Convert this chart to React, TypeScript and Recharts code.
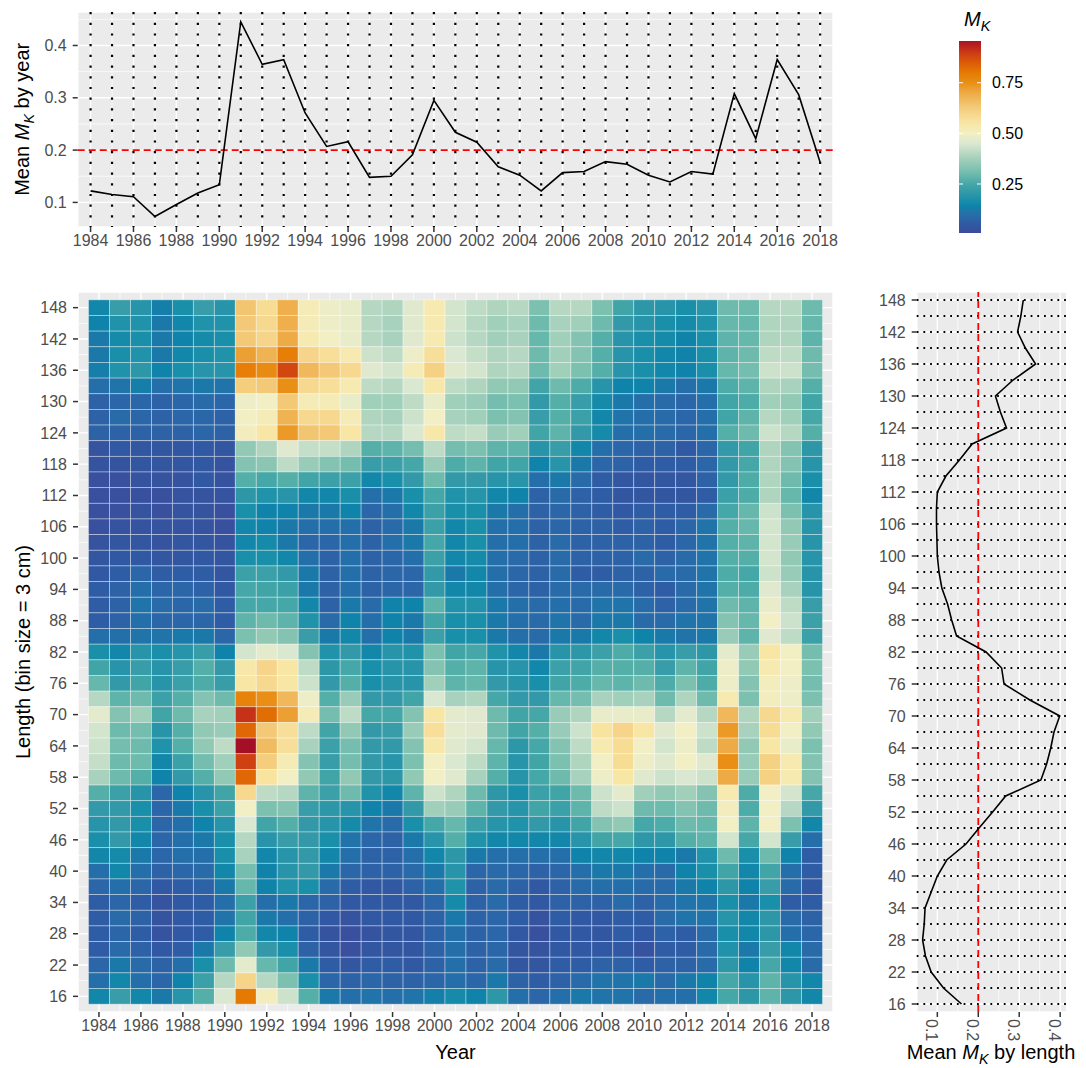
import React from "react";
import {
  CartesianGrid,
  Line,
  LineChart,
  ReferenceLine,
  Scatter,
  ScatterChart,
  XAxis,
  YAxis,
} from "recharts";

// survey years, left to right
const years = [
  1984, 1985, 1986, 1987, 1988, 1989, 1990, 1991, 1992, 1993, 1994, 1995,
  1996, 1997, 1998, 1999, 2000, 2001, 2002, 2003, 2004, 2005, 2006, 2007,
  2008, 2009, 2010, 2011, 2012, 2013, 2014, 2015, 2016, 2017, 2018,
];

// length bins (cm), top row first
const lengths = [
  148, 145, 142, 139, 136, 133, 130, 127, 124, 121, 118, 115, 112, 109, 106,
  103, 100, 97, 94, 91, 88, 85, 82, 79, 76, 73, 70, 67, 64, 61, 58, 55, 52, 49,
  46, 43, 40, 37, 34, 31, 28, 25, 22, 19, 16,
];

const yearTicks = [
  1984, 1986, 1988, 1990, 1992, 1994, 1996, 1998, 2000, 2002, 2004, 2006,
  2008, 2010, 2012, 2014, 2016, 2018,
];
const lengthTicks = [
  16, 22, 28, 34, 40, 46, 52, 58, 64, 70, 76, 82, 88, 94, 100, 106, 112, 118,
  124, 130, 136, 142, 148,
];
const mkTicks = [0.1, 0.2, 0.3, 0.4];
const legendTicks = [0.25, 0.5, 0.75];
const mkReference = 0.2;

// mean M_K per year
const yearMeans = [
  0.122, 0.115, 0.111, 0.073, 0.096, 0.118, 0.134, 0.445, 0.364, 0.373, 0.271,
  0.207, 0.216, 0.148, 0.15, 0.191, 0.295, 0.234, 0.215, 0.168, 0.152, 0.122,
  0.157, 0.159, 0.178, 0.173, 0.152, 0.139, 0.159, 0.154, 0.308, 0.222, 0.373,
  0.306, 0.177,
];

// mean M_K per length bin, same order as `lengths`
const lengthMeans = [
  0.31, 0.304, 0.296, 0.315, 0.34, 0.285, 0.242, 0.254, 0.269, 0.185, 0.154,
  0.121, 0.1, 0.098, 0.098, 0.099, 0.1, 0.104, 0.111, 0.125, 0.135, 0.147,
  0.219, 0.257, 0.263, 0.326, 0.399, 0.385, 0.377, 0.367, 0.353, 0.267, 0.235,
  0.202, 0.17, 0.123, 0.1, 0.085, 0.07, 0.068, 0.064, 0.071, 0.085, 0.115,
  0.159,
];

// M_K by length (rows, same order as `lengths`) and year (columns)
const mkGrid = [
  /* 148 */ [0.15, 0.22, 0.19, 0.13, 0.17, 0.22, 0.19, 0.64, 0.58, 0.69, 0.52, 0.49, 0.48, 0.4, 0.39, 0.46, 0.53, 0.44, 0.41, 0.39, 0.4, 0.32, 0.4, 0.4, 0.32, 0.24, 0.2, 0.19, 0.17, 0.19, 0.3, 0.3, 0.4, 0.4, 0.3],
  /* 145 */ [0.14, 0.18, 0.18, 0.12, 0.15, 0.18, 0.18, 0.63, 0.59, 0.69, 0.52, 0.49, 0.48, 0.4, 0.38, 0.46, 0.53, 0.44, 0.4, 0.37, 0.38, 0.3, 0.38, 0.37, 0.3, 0.21, 0.19, 0.17, 0.16, 0.18, 0.29, 0.29, 0.39, 0.39, 0.29],
  /* 142 */ [0.12, 0.16, 0.17, 0.12, 0.14, 0.16, 0.17, 0.63, 0.6, 0.7, 0.53, 0.5, 0.48, 0.4, 0.38, 0.46, 0.53, 0.43, 0.4, 0.37, 0.38, 0.29, 0.37, 0.33, 0.27, 0.19, 0.17, 0.16, 0.14, 0.17, 0.28, 0.29, 0.39, 0.39, 0.28],
  /* 139 */ [0.12, 0.17, 0.18, 0.12, 0.15, 0.17, 0.18, 0.72, 0.68, 0.79, 0.6, 0.57, 0.53, 0.43, 0.41, 0.49, 0.57, 0.45, 0.42, 0.39, 0.4, 0.3, 0.37, 0.33, 0.27, 0.19, 0.17, 0.15, 0.14, 0.17, 0.28, 0.3, 0.41, 0.41, 0.3],
  /* 136 */ [0.13, 0.18, 0.2, 0.14, 0.17, 0.19, 0.19, 0.79, 0.76, 0.88, 0.67, 0.63, 0.59, 0.46, 0.44, 0.52, 0.61, 0.46, 0.44, 0.39, 0.4, 0.3, 0.37, 0.32, 0.27, 0.19, 0.17, 0.15, 0.14, 0.17, 0.29, 0.31, 0.43, 0.43, 0.31],
  /* 133 */ [0.1, 0.11, 0.13, 0.1, 0.11, 0.12, 0.11, 0.62, 0.63, 0.75, 0.59, 0.57, 0.53, 0.41, 0.4, 0.45, 0.54, 0.41, 0.39, 0.35, 0.35, 0.24, 0.3, 0.26, 0.19, 0.14, 0.14, 0.12, 0.1, 0.12, 0.26, 0.28, 0.39, 0.38, 0.27],
  /* 130 */ [0.07, 0.08, 0.08, 0.07, 0.08, 0.09, 0.08, 0.49, 0.5, 0.63, 0.52, 0.52, 0.48, 0.37, 0.37, 0.41, 0.48, 0.37, 0.36, 0.31, 0.32, 0.21, 0.27, 0.22, 0.16, 0.12, 0.1, 0.09, 0.08, 0.1, 0.24, 0.26, 0.37, 0.35, 0.24],
  /* 127 */ [0.07, 0.09, 0.08, 0.07, 0.08, 0.08, 0.07, 0.5, 0.52, 0.68, 0.59, 0.59, 0.52, 0.39, 0.38, 0.43, 0.5, 0.38, 0.37, 0.32, 0.33, 0.22, 0.27, 0.23, 0.15, 0.11, 0.1, 0.09, 0.08, 0.1, 0.24, 0.28, 0.4, 0.37, 0.25],
  /* 124 */ [0.07, 0.07, 0.07, 0.07, 0.07, 0.08, 0.07, 0.51, 0.55, 0.73, 0.64, 0.63, 0.55, 0.4, 0.4, 0.45, 0.54, 0.41, 0.42, 0.36, 0.37, 0.24, 0.28, 0.21, 0.16, 0.1, 0.1, 0.09, 0.08, 0.1, 0.27, 0.3, 0.43, 0.4, 0.27],
  /* 121 */ [0.03, 0.05, 0.04, 0.04, 0.04, 0.05, 0.04, 0.35, 0.39, 0.46, 0.42, 0.42, 0.39, 0.27, 0.28, 0.31, 0.41, 0.31, 0.32, 0.28, 0.28, 0.19, 0.22, 0.15, 0.1, 0.08, 0.07, 0.07, 0.05, 0.08, 0.21, 0.24, 0.39, 0.33, 0.2],
  /* 118 */ [0.03, 0.03, 0.04, 0.04, 0.04, 0.05, 0.03, 0.33, 0.34, 0.41, 0.36, 0.33, 0.31, 0.22, 0.23, 0.25, 0.36, 0.26, 0.28, 0.24, 0.24, 0.14, 0.19, 0.12, 0.08, 0.07, 0.06, 0.06, 0.06, 0.08, 0.21, 0.25, 0.39, 0.33, 0.19],
  /* 115 */ [0.02, 0.02, 0.03, 0.03, 0.03, 0.05, 0.03, 0.27, 0.25, 0.27, 0.24, 0.23, 0.23, 0.15, 0.17, 0.21, 0.3, 0.21, 0.21, 0.19, 0.19, 0.1, 0.12, 0.09, 0.06, 0.04, 0.04, 0.04, 0.04, 0.07, 0.21, 0.26, 0.39, 0.3, 0.17],
  /* 112 */ [0.02, 0.02, 0.02, 0.02, 0.03, 0.03, 0.03, 0.2, 0.18, 0.19, 0.15, 0.15, 0.17, 0.1, 0.12, 0.17, 0.25, 0.18, 0.19, 0.15, 0.14, 0.07, 0.09, 0.07, 0.06, 0.04, 0.04, 0.04, 0.04, 0.06, 0.23, 0.26, 0.39, 0.29, 0.15],
  /* 109 */ [0.02, 0.02, 0.03, 0.02, 0.03, 0.03, 0.02, 0.17, 0.14, 0.14, 0.12, 0.12, 0.14, 0.08, 0.1, 0.15, 0.23, 0.17, 0.17, 0.12, 0.1, 0.07, 0.08, 0.07, 0.06, 0.05, 0.06, 0.06, 0.06, 0.09, 0.25, 0.29, 0.43, 0.32, 0.19],
  /* 106 */ [0.02, 0.03, 0.03, 0.03, 0.03, 0.03, 0.02, 0.15, 0.14, 0.12, 0.1, 0.1, 0.1, 0.07, 0.09, 0.12, 0.23, 0.15, 0.17, 0.1, 0.1, 0.07, 0.08, 0.07, 0.07, 0.06, 0.07, 0.06, 0.08, 0.11, 0.27, 0.29, 0.44, 0.35, 0.19],
  /* 103 */ [0.03, 0.04, 0.04, 0.03, 0.04, 0.04, 0.03, 0.15, 0.16, 0.12, 0.08, 0.08, 0.1, 0.07, 0.1, 0.12, 0.25, 0.15, 0.17, 0.1, 0.1, 0.07, 0.09, 0.07, 0.07, 0.07, 0.07, 0.06, 0.08, 0.11, 0.27, 0.28, 0.44, 0.36, 0.19],
  /* 100 */ [0.04, 0.05, 0.05, 0.04, 0.04, 0.05, 0.04, 0.17, 0.17, 0.15, 0.1, 0.07, 0.1, 0.07, 0.08, 0.1, 0.23, 0.15, 0.16, 0.1, 0.09, 0.07, 0.09, 0.07, 0.07, 0.07, 0.09, 0.07, 0.09, 0.11, 0.27, 0.27, 0.44, 0.35, 0.19],
  /*  97 */ [0.05, 0.06, 0.08, 0.06, 0.06, 0.06, 0.04, 0.23, 0.23, 0.21, 0.12, 0.07, 0.1, 0.07, 0.08, 0.08, 0.21, 0.12, 0.15, 0.1, 0.08, 0.07, 0.09, 0.06, 0.06, 0.07, 0.07, 0.09, 0.09, 0.11, 0.26, 0.25, 0.43, 0.36, 0.19],
  /*  94 */ [0.06, 0.07, 0.1, 0.08, 0.08, 0.07, 0.05, 0.25, 0.24, 0.23, 0.12, 0.07, 0.1, 0.07, 0.08, 0.08, 0.21, 0.15, 0.15, 0.1, 0.08, 0.07, 0.09, 0.09, 0.09, 0.09, 0.07, 0.06, 0.09, 0.11, 0.27, 0.26, 0.46, 0.38, 0.19],
  /*  91 */ [0.06, 0.07, 0.11, 0.09, 0.08, 0.09, 0.06, 0.25, 0.25, 0.25, 0.15, 0.07, 0.12, 0.09, 0.14, 0.14, 0.28, 0.18, 0.18, 0.12, 0.1, 0.09, 0.1, 0.09, 0.11, 0.11, 0.09, 0.07, 0.09, 0.11, 0.3, 0.28, 0.48, 0.41, 0.22],
  /*  88 */ [0.06, 0.07, 0.1, 0.08, 0.08, 0.08, 0.06, 0.28, 0.3, 0.28, 0.18, 0.09, 0.14, 0.1, 0.14, 0.12, 0.24, 0.17, 0.17, 0.12, 0.1, 0.09, 0.11, 0.09, 0.12, 0.12, 0.09, 0.09, 0.11, 0.11, 0.33, 0.29, 0.5, 0.43, 0.23],
  /*  85 */ [0.1, 0.1, 0.11, 0.11, 0.12, 0.12, 0.08, 0.32, 0.35, 0.33, 0.22, 0.12, 0.15, 0.1, 0.14, 0.12, 0.23, 0.17, 0.17, 0.12, 0.1, 0.09, 0.12, 0.12, 0.15, 0.17, 0.14, 0.12, 0.11, 0.12, 0.36, 0.28, 0.46, 0.41, 0.23],
  /*  82 */ [0.17, 0.15, 0.19, 0.17, 0.19, 0.22, 0.14, 0.44, 0.47, 0.45, 0.33, 0.18, 0.21, 0.15, 0.19, 0.18, 0.32, 0.24, 0.25, 0.18, 0.15, 0.12, 0.19, 0.2, 0.23, 0.26, 0.23, 0.19, 0.22, 0.2, 0.47, 0.36, 0.55, 0.5, 0.31],
  /*  79 */ [0.24, 0.19, 0.22, 0.19, 0.22, 0.27, 0.21, 0.54, 0.6, 0.55, 0.41, 0.2, 0.25, 0.17, 0.19, 0.19, 0.33, 0.27, 0.28, 0.19, 0.19, 0.15, 0.23, 0.24, 0.27, 0.27, 0.27, 0.22, 0.28, 0.24, 0.49, 0.35, 0.53, 0.5, 0.32],
  /*  76 */ [0.29, 0.21, 0.24, 0.19, 0.23, 0.26, 0.22, 0.55, 0.59, 0.55, 0.43, 0.21, 0.27, 0.17, 0.19, 0.19, 0.37, 0.28, 0.29, 0.21, 0.19, 0.17, 0.24, 0.26, 0.29, 0.28, 0.3, 0.26, 0.32, 0.26, 0.49, 0.33, 0.51, 0.49, 0.31],
  /*  73 */ [0.4, 0.28, 0.3, 0.23, 0.27, 0.33, 0.3, 0.78, 0.75, 0.67, 0.49, 0.27, 0.36, 0.21, 0.21, 0.24, 0.45, 0.38, 0.39, 0.25, 0.21, 0.21, 0.29, 0.31, 0.38, 0.37, 0.38, 0.3, 0.39, 0.3, 0.53, 0.32, 0.51, 0.49, 0.32],
  /*  70 */ [0.47, 0.33, 0.37, 0.24, 0.3, 0.38, 0.37, 0.91, 0.82, 0.72, 0.52, 0.31, 0.41, 0.25, 0.25, 0.33, 0.55, 0.47, 0.46, 0.3, 0.24, 0.25, 0.36, 0.39, 0.48, 0.48, 0.48, 0.4, 0.47, 0.4, 0.67, 0.39, 0.59, 0.53, 0.37],
  /*  67 */ [0.44, 0.3, 0.31, 0.19, 0.27, 0.35, 0.36, 0.83, 0.63, 0.57, 0.41, 0.24, 0.35, 0.21, 0.22, 0.36, 0.57, 0.47, 0.46, 0.3, 0.24, 0.27, 0.36, 0.43, 0.56, 0.6, 0.55, 0.46, 0.5, 0.43, 0.73, 0.38, 0.58, 0.5, 0.35],
  /*  64 */ [0.43, 0.31, 0.3, 0.18, 0.27, 0.35, 0.41, 0.96, 0.66, 0.57, 0.38, 0.23, 0.31, 0.21, 0.21, 0.33, 0.54, 0.46, 0.44, 0.29, 0.2, 0.25, 0.33, 0.41, 0.53, 0.58, 0.5, 0.44, 0.49, 0.41, 0.7, 0.35, 0.55, 0.48, 0.32],
  /*  61 */ [0.42, 0.3, 0.3, 0.15, 0.23, 0.31, 0.37, 0.89, 0.62, 0.52, 0.33, 0.22, 0.31, 0.21, 0.19, 0.32, 0.5, 0.45, 0.41, 0.28, 0.19, 0.24, 0.32, 0.39, 0.5, 0.58, 0.49, 0.46, 0.5, 0.46, 0.75, 0.36, 0.61, 0.53, 0.33],
  /*  58 */ [0.38, 0.3, 0.27, 0.14, 0.21, 0.27, 0.35, 0.83, 0.56, 0.5, 0.35, 0.24, 0.35, 0.21, 0.2, 0.35, 0.5, 0.46, 0.38, 0.27, 0.19, 0.25, 0.3, 0.38, 0.49, 0.55, 0.46, 0.43, 0.45, 0.43, 0.7, 0.36, 0.61, 0.53, 0.33],
  /*  55 */ [0.27, 0.23, 0.19, 0.08, 0.14, 0.19, 0.24, 0.59, 0.41, 0.4, 0.28, 0.23, 0.3, 0.18, 0.15, 0.28, 0.43, 0.39, 0.3, 0.2, 0.17, 0.23, 0.24, 0.3, 0.43, 0.47, 0.37, 0.35, 0.37, 0.33, 0.53, 0.26, 0.5, 0.44, 0.25],
  /*  52 */ [0.21, 0.21, 0.17, 0.08, 0.12, 0.17, 0.23, 0.5, 0.32, 0.33, 0.22, 0.2, 0.19, 0.14, 0.12, 0.21, 0.37, 0.36, 0.28, 0.21, 0.19, 0.24, 0.23, 0.28, 0.41, 0.43, 0.3, 0.3, 0.33, 0.3, 0.51, 0.26, 0.5, 0.4, 0.21],
  /*  49 */ [0.19, 0.21, 0.17, 0.08, 0.1, 0.14, 0.19, 0.45, 0.24, 0.27, 0.21, 0.19, 0.16, 0.11, 0.09, 0.17, 0.25, 0.29, 0.23, 0.19, 0.18, 0.21, 0.19, 0.24, 0.33, 0.35, 0.25, 0.26, 0.3, 0.29, 0.5, 0.28, 0.5, 0.32, 0.15],
  /*  46 */ [0.17, 0.21, 0.15, 0.08, 0.1, 0.12, 0.17, 0.4, 0.19, 0.22, 0.21, 0.17, 0.11, 0.08, 0.07, 0.12, 0.19, 0.27, 0.18, 0.15, 0.15, 0.15, 0.15, 0.19, 0.24, 0.25, 0.2, 0.2, 0.27, 0.28, 0.44, 0.25, 0.44, 0.22, 0.1],
  /*  43 */ [0.15, 0.16, 0.12, 0.08, 0.1, 0.1, 0.17, 0.38, 0.15, 0.19, 0.21, 0.15, 0.1, 0.07, 0.07, 0.1, 0.15, 0.2, 0.12, 0.1, 0.1, 0.1, 0.1, 0.14, 0.15, 0.15, 0.14, 0.14, 0.12, 0.18, 0.3, 0.17, 0.3, 0.14, 0.06],
  /*  40 */ [0.1, 0.15, 0.1, 0.07, 0.08, 0.09, 0.15, 0.31, 0.14, 0.19, 0.21, 0.12, 0.08, 0.07, 0.07, 0.09, 0.12, 0.19, 0.08, 0.09, 0.08, 0.07, 0.08, 0.1, 0.12, 0.12, 0.1, 0.09, 0.14, 0.17, 0.24, 0.15, 0.24, 0.1, 0.06],
  /*  37 */ [0.08, 0.1, 0.08, 0.05, 0.06, 0.07, 0.12, 0.29, 0.14, 0.18, 0.17, 0.09, 0.06, 0.05, 0.05, 0.07, 0.1, 0.18, 0.07, 0.09, 0.07, 0.05, 0.07, 0.09, 0.1, 0.1, 0.09, 0.09, 0.12, 0.14, 0.2, 0.14, 0.22, 0.09, 0.05],
  /*  34 */ [0.06, 0.08, 0.06, 0.03, 0.05, 0.06, 0.1, 0.23, 0.1, 0.12, 0.08, 0.07, 0.05, 0.05, 0.05, 0.05, 0.08, 0.16, 0.07, 0.09, 0.06, 0.05, 0.07, 0.07, 0.07, 0.09, 0.07, 0.09, 0.11, 0.11, 0.17, 0.12, 0.17, 0.06, 0.06],
  /*  31 */ [0.06, 0.09, 0.07, 0.03, 0.05, 0.06, 0.11, 0.24, 0.12, 0.1, 0.07, 0.05, 0.03, 0.05, 0.05, 0.05, 0.07, 0.12, 0.07, 0.08, 0.06, 0.03, 0.06, 0.05, 0.05, 0.06, 0.06, 0.09, 0.11, 0.11, 0.19, 0.15, 0.2, 0.09, 0.07],
  /*  28 */ [0.06, 0.08, 0.06, 0.03, 0.05, 0.06, 0.14, 0.26, 0.15, 0.14, 0.06, 0.03, 0.02, 0.03, 0.04, 0.04, 0.07, 0.1, 0.07, 0.08, 0.05, 0.02, 0.05, 0.05, 0.04, 0.06, 0.05, 0.07, 0.06, 0.09, 0.17, 0.15, 0.2, 0.1, 0.08],
  /*  25 */ [0.06, 0.09, 0.07, 0.05, 0.06, 0.12, 0.22, 0.35, 0.21, 0.17, 0.07, 0.04, 0.02, 0.04, 0.04, 0.04, 0.07, 0.1, 0.07, 0.08, 0.04, 0.03, 0.05, 0.05, 0.05, 0.05, 0.03, 0.06, 0.06, 0.09, 0.18, 0.12, 0.22, 0.15, 0.09],
  /*  22 */ [0.08, 0.12, 0.09, 0.07, 0.1, 0.17, 0.3, 0.47, 0.29, 0.24, 0.12, 0.06, 0.04, 0.06, 0.06, 0.05, 0.07, 0.1, 0.07, 0.09, 0.04, 0.04, 0.06, 0.06, 0.07, 0.07, 0.06, 0.07, 0.07, 0.09, 0.2, 0.14, 0.25, 0.15, 0.09],
  /*  19 */ [0.1, 0.15, 0.1, 0.08, 0.14, 0.23, 0.4, 0.6, 0.4, 0.32, 0.17, 0.08, 0.07, 0.08, 0.07, 0.07, 0.08, 0.1, 0.08, 0.12, 0.07, 0.06, 0.07, 0.09, 0.11, 0.11, 0.12, 0.09, 0.12, 0.14, 0.25, 0.19, 0.28, 0.19, 0.15],
  /*  16 */ [0.15, 0.22, 0.15, 0.12, 0.19, 0.27, 0.45, 0.8, 0.51, 0.43, 0.27, 0.12, 0.1, 0.11, 0.1, 0.11, 0.13, 0.16, 0.14, 0.2, 0.1, 0.08, 0.1, 0.12, 0.11, 0.11, 0.09, 0.1, 0.1, 0.15, 0.25, 0.2, 0.28, 0.2, 0.15],
];

// colour ramp for M_K
const paletteStops = [
  0, 0.05, 0.08, 0.11, 0.14, 0.17, 0.21, 0.25, 0.3, 0.35, 0.4, 0.45, 0.5, 0.55,
  0.6, 0.65, 0.7, 0.75, 0.8, 0.85, 0.9, 0.96,
];
const paletteColors = [
  "#3d4a9a", "#3159a3", "#2b66a8", "#2174a9", "#0f83a9", "#1a8fa9", "#3399a8",
  "#45a7a7", "#6ebbad", "#92c9b5", "#b6d8c2", "#dbe8d1", "#f2efc4", "#f8e6a4",
  "#f6d58a", "#f1c16a", "#eeaa44", "#e98f16", "#e57a03", "#dc5a08", "#cc3915",
  "#a50f25",
];

const FONT = "'Liberation Sans', Arial, Helvetica, sans-serif";
const TICK_COLOR = "#4D4D4D";
const PANEL = "#EBEBEB";
const TITLE_SIZE = 20;
const LEGEND_MIN = 0.008;
const LEGEND_MAX = 0.956;

const hexToRgb = (h: string) => [
  parseInt(h.slice(1, 3), 16),
  parseInt(h.slice(3, 5), 16),
  parseInt(h.slice(5, 7), 16),
];

function mkColor(v: number) {
  if (v <= paletteStops[0]) return paletteColors[0];
  for (let i = 1; i < paletteStops.length; i++) {
    if (v <= paletteStops[i]) {
      const t = (v - paletteStops[i - 1]) / (paletteStops[i] - paletteStops[i - 1]);
      const a = hexToRgb(paletteColors[i - 1]);
      const b = hexToRgb(paletteColors[i]);
      const c = a.map((x, k) => Math.round(x + (b[k] - x) * t));
      return `rgb(${c[0]},${c[1]},${c[2]})`;
    }
  }
  return paletteColors[paletteColors.length - 1];
}

const midpoints = (t: number[]) =>
  t.slice(1).map((v, i) => (v + t[i]) / 2);

const tickStyle = { fill: TICK_COLOR, fontSize: 16 };
const tickLine = { stroke: "#333333", strokeWidth: 1.5 };

const yearData = years.map((year, i) => ({ year, mk: yearMeans[i] }));
const lengthData = lengths.map((len, i) => ({ len, mk: lengthMeans[i] }));
const cells = lengths.flatMap((len, r) =>
  years.map((year, c) => ({ year, len, mk: mkGrid[r][c] }))
);

// heatmap geometry
const HM_X_DOMAIN = [1983, 2019];
const HM_Y_DOMAIN = [13, 151];
const HM_PLOT_W = 755;
const HM_PLOT_H = 720;
const CELL_W = HM_PLOT_W / (HM_X_DOMAIN[1] - HM_X_DOMAIN[0]);
const CELL_H = (HM_PLOT_H / (HM_Y_DOMAIN[1] - HM_Y_DOMAIN[0])) * 3;

const Tile = (props: any) => {
  const { cx, cy, payload } = props;
  return (
    <rect
      x={cx - CELL_W / 2}
      y={cy - CELL_H / 2}
      width={CELL_W}
      height={CELL_H}
      fill={mkColor(payload.mk)}
      stroke="#ffffff"
      strokeOpacity={0.45}
      strokeWidth={0.8}
    />
  );
};

const TopChart = () => (
  <LineChart
    width={850}
    height={260}
    data={yearData}
    margin={{ top: 12, right: 17, bottom: 0, left: 0 }}
  >
    <CartesianGrid
      fill={PANEL}
      stroke="#ffffff"
      strokeWidth={0.7}
      horizontalValues={[0.15, 0.25, 0.35, 0.45]}
      verticalValues={years.filter((y) => !yearTicks.includes(y))}
    />
    <CartesianGrid stroke="#ffffff" strokeWidth={1.4} />
    <CartesianGrid
      stroke="#000000"
      strokeWidth={2.2}
      strokeDasharray="2.2 8.5"
      horizontal={false}
      verticalValues={years}
    />
    <XAxis
      type="number"
      dataKey="year"
      domain={[1983.4, 2018.6]}
      allowDataOverflow
      ticks={yearTicks}
      interval={0}
      tick={tickStyle}
      tickLine={tickLine}
      tickSize={5}
      tickMargin={3}
      axisLine={false}
      height={33}
    />
    <YAxis
      type="number"
      domain={[0.053, 0.464]}
      allowDataOverflow
      ticks={mkTicks}
      tickFormatter={(v: number) => v.toFixed(1)}
      tick={tickStyle}
      tickLine={tickLine}
      tickSize={5}
      tickMargin={6}
      axisLine={false}
      width={77.7}
    />
    <ReferenceLine
      y={mkReference}
      stroke="#FF0000"
      strokeWidth={1.8}
      strokeDasharray="7 4"
    />
    <Line
      type="linear"
      dataKey="mk"
      stroke="#000000"
      strokeWidth={1.6}
      dot={false}
      isAnimationActive={false}
    />
  </LineChart>
);

const HeatMap = () => (
  <ScatterChart
    width={850}
    height={788}
    margin={{ top: 12, right: 17, bottom: 0, left: 0 }}
  >
    <CartesianGrid
      fill={PANEL}
      stroke="#ffffff"
      strokeWidth={0.7}
      horizontalValues={midpoints(lengthTicks)}
      verticalValues={years.filter((y) => !yearTicks.includes(y))}
    />
    <CartesianGrid stroke="#ffffff" strokeWidth={1.4} />
    <XAxis
      type="number"
      dataKey="year"
      domain={HM_X_DOMAIN}
      allowDataOverflow
      ticks={yearTicks}
      interval={0}
      tick={tickStyle}
      tickLine={tickLine}
      tickSize={5}
      tickMargin={3}
      axisLine={false}
      height={56}
    />
    <YAxis
      type="number"
      dataKey="len"
      domain={HM_Y_DOMAIN}
      allowDataOverflow
      ticks={lengthTicks}
      interval={0}
      tick={tickStyle}
      tickLine={tickLine}
      tickSize={5}
      tickMargin={6}
      axisLine={false}
      width={78}
    />
    <Scatter data={cells} shape={Tile} isAnimationActive={false} />
  </ScatterChart>
);

const RotatedTick = (props: any) => {
  const { x, y, payload } = props;
  return (
    <text
      transform={`translate(${x - 11},${y}) rotate(90)`}
      fill={TICK_COLOR}
      fontSize={16}
      textAnchor="start"
    >
      {Number(payload.value).toFixed(1)}
    </text>
  );
};

const SideChart = () => (
  <LineChart
    layout="vertical"
    width={226}
    height={788}
    data={lengthData}
    margin={{ top: 12, right: 19.3, bottom: 0, left: 0 }}
  >
    <CartesianGrid
      fill={PANEL}
      stroke="#ffffff"
      strokeWidth={0.7}
      horizontalValues={midpoints(lengthTicks)}
      verticalValues={[0.05, 0.15, 0.25, 0.35]}
    />
    <CartesianGrid stroke="#ffffff" strokeWidth={1.4} />
    <CartesianGrid
      stroke="#000000"
      strokeWidth={1.8}
      strokeDasharray="1.8 4.9"
      vertical={false}
      horizontalValues={lengths}
    />
    <XAxis
      type="number"
      domain={[0.0496, 0.416]}
      allowDataOverflow
      ticks={mkTicks}
      interval={0}
      tick={<RotatedTick />}
      tickLine={tickLine}
      tickSize={5}
      tickMargin={2}
      axisLine={false}
      height={56}
    />
    <YAxis
      type="number"
      dataKey="len"
      domain={[14.5, 149.5]}
      reversed
      allowDataOverflow
      ticks={lengthTicks}
      interval={0}
      tick={tickStyle}
      tickLine={tickLine}
      tickSize={5}
      tickMargin={6}
      axisLine={false}
      width={56.7}
    />
    <ReferenceLine
      x={mkReference}
      stroke="#FF0000"
      strokeWidth={1.8}
      strokeDasharray="7 4"
    />
    <Line
      type="linear"
      dataKey="mk"
      stroke="#000000"
      strokeWidth={1.6}
      dot={false}
      isAnimationActive={false}
    />
  </LineChart>
);

// colour bar and axis titles
const BAR_X = 959;
const BAR_TOP = 41;
const BAR_H = 192;
const barY = (v: number) =>
  BAR_TOP + BAR_H - ((v - LEGEND_MIN) / (LEGEND_MAX - LEGEND_MIN)) * BAR_H;

const MK = ({ size }: { size: number }) => (
  <>
    <tspan fontStyle="italic">M</tspan>
    <tspan fontStyle="italic" fontSize={size * 0.72} dy={size * 0.25}>
      K
    </tspan>
  </>
);

const Overlay = () => {
  const inner = paletteStops.filter((s) => s > LEGEND_MIN && s < LEGEND_MAX);
  return (
    <svg
      width={1086}
      height={1068}
      style={{ position: "absolute", left: 0, top: 0, pointerEvents: "none" }}
    >
      <defs>
        <linearGradient id="mkRamp" x1="0" y1="1" x2="0" y2="0">
          <stop offset="0" stopColor={mkColor(LEGEND_MIN)} />
          {inner.map((s) => (
            <stop
              key={s}
              offset={(s - LEGEND_MIN) / (LEGEND_MAX - LEGEND_MIN)}
              stopColor={mkColor(s)}
            />
          ))}
          <stop offset="1" stopColor={mkColor(LEGEND_MAX)} />
        </linearGradient>
      </defs>
      <g fontFamily={FONT}>
        <text transform="translate(29,119.3) rotate(-90)" textAnchor="middle" fontSize={TITLE_SIZE} fill="#000">
          Mean <MK size={TITLE_SIZE} />
          <tspan dy={-TITLE_SIZE * 0.25}> by year</tspan>
        </text>
        <text transform="translate(30,652) rotate(-90)" textAnchor="middle" fontSize={TITLE_SIZE} fill="#000">
          Length (bin size = 3 cm)
        </text>
        <text x={455.5} y={1059} textAnchor="middle" fontSize={TITLE_SIZE} fill="#000">
          Year
        </text>
        <text x={991} y={1059} textAnchor="middle" fontSize={TITLE_SIZE} fill="#000">
          Mean <MK size={TITLE_SIZE} />
          <tspan dy={-TITLE_SIZE * 0.25}> by length</tspan>
        </text>
        <text x={964} y={26} fontSize={20} fill="#000">
          <MK size={20} />
        </text>
        <rect x={BAR_X} y={BAR_TOP} width={22} height={BAR_H} fill="url(#mkRamp)" />
        {legendTicks.map((v) => (
          <g key={v}>
            <line x1={BAR_X} x2={BAR_X + 4} y1={barY(v)} y2={barY(v)} stroke="#fff" strokeWidth={1} />
            <line x1={BAR_X + 18} x2={BAR_X + 22} y1={barY(v)} y2={barY(v)} stroke="#fff" strokeWidth={1} />
            <text x={992} y={barY(v) + 5.7} fontSize={16} fill="#000">
              {v.toFixed(2)}
            </text>
          </g>
        ))}
      </g>
    </svg>
  );
};

export default function App() {
  return (
    <div
      style={{
        position: "absolute",
        left: 0,
        top: 0,
        width: 1086,
        height: 1068,
        background: "#fff",
        fontFamily: FONT,
      }}
    >
      <div style={{ position: "absolute", left: 0, top: 0 }}>
        <TopChart />
      </div>
      <div style={{ position: "absolute", left: 0, top: 280 }}>
        <HeatMap />
      </div>
      <div style={{ position: "absolute", left: 860, top: 280 }}>
        <SideChart />
      </div>
      <Overlay />
    </div>
  );
}
